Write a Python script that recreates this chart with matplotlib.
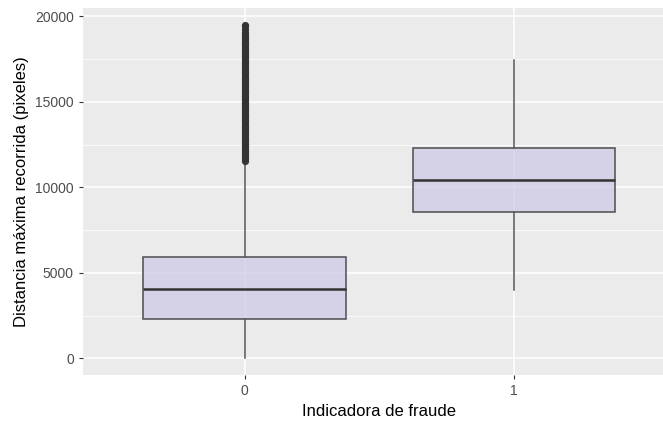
import matplotlib.pyplot as plt
from matplotlib.ticker import MultipleLocator

plt.rcParams['font.family'] = ['Liberation Sans', 'DejaVu Sans']

# box statistics per fraud indicator
groups = ["0", "1"]
whislo = [0, 3990]
q1 = [2290, 8560]
med = [4050, 10420]
q3 = [5920, 12320]
whishi = [11500, 17440]

# outliers above the upper whisker (group 0 only)
outliers_0 = [11550, 11650, 11750, 11850, 11950, 12050, 12150, 12250, 12350,
              12450, 12550, 12650, 12750, 12850, 12950, 13050, 13150, 13250,
              13350, 13450, 13550, 13650, 13750, 13850, 13950, 14050, 14150,
              14250, 14350, 14450, 14550, 14650, 14750, 14850, 14950, 15050,
              15150, 15250, 15350, 15450, 15550, 15650, 15750, 15850, 15950,
              16050, 16150, 16250, 16350, 16450, 16550, 16650, 16750, 16850,
              16950, 17050, 17150, 17250, 17350, 17450, 17550, 17650, 17750,
              17850, 17950, 18050, 18150, 18250, 18350, 18450, 18550, 18650,
              18750, 18850, 18950, 19100, 19250, 19400, 19500]
outliers_1 = []

stats = []
for i, g in enumerate(groups):
    stats.append({"label": g, "whislo": whislo[i], "q1": q1[i], "med": med[i],
                  "q3": q3[i], "whishi": whishi[i],
                  "fliers": [outliers_0, outliers_1][i]})

fig = plt.figure(figsize=(6.63, 4.22), dpi=100)
# the panel runs a little past the right edge of the image
ax = fig.add_axes([0.125, 0.111, 0.894, 0.870])
ax.set_facecolor("#EBEBEB")

ax.yaxis.set_major_locator(MultipleLocator(5000))
ax.yaxis.set_minor_locator(MultipleLocator(2500))
ax.grid(which="major", color="white", linewidth=1.1)
ax.grid(which="minor", axis="y", color="white", linewidth=0.55)
ax.set_axisbelow(True)

ax.bxp(stats, positions=[1, 2], widths=0.75, patch_artist=True, showcaps=False,
       boxprops=dict(facecolor=(0.80, 0.78, 0.90, 0.7), edgecolor="#4D4D4D", linewidth=1.1),
       medianprops=dict(color="#333333", linewidth=1.8),
       whiskerprops=dict(color="#555555", linewidth=1.1),
       flierprops=dict(marker="o", markersize=5.2, markerfacecolor="#333333",
                       markeredgecolor="none", alpha=0.95),
       zorder=3)

ax.set_xlim(0.4, 2.6)
ax.set_ylim(-975, 20475)
for s in ax.spines.values():
    s.set_visible(False)
ax.tick_params(which="major", length=3, color="#333333", labelcolor="#4D4D4D", labelsize=10)
ax.tick_params(which="minor", length=0)
ax.set_xlabel("Indicadora de fraude", fontsize=12, labelpad=4)
ax.set_ylabel("Distancia máxima recorrida (pixeles)", fontsize=12, labelpad=4)

fig.savefig("out.png", dpi=100)
